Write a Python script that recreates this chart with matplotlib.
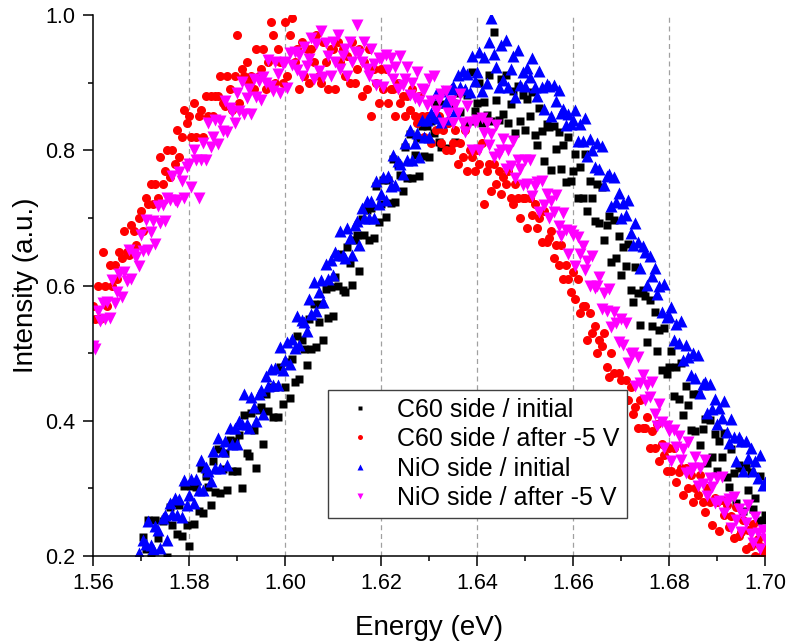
import numpy as np
import matplotlib
matplotlib.use("Agg")
import matplotlib.pyplot as plt
from matplotlib.ticker import MultipleLocator, FormatStrFormatter

plt.rcParams['font.family'] = ['Liberation Sans', 'DejaVu Sans']

# intensities, 0.0005 eV steps
# C60 side / after -5 V  (1.560 ... 1.700 eV)
c60_after = [
    0.57, 0.55, 0.60, 0.55, 0.65, 0.60, 0.57, 0.63, 0.60, 0.63,
    0.61, 0.65, 0.64, 0.68, 0.65, 0.645, 0.69, 0.68, 0.66, 0.70,
    0.71, 0.68, 0.73, 0.72, 0.75, 0.72, 0.75, 0.73, 0.79, 0.75,
    0.77, 0.80, 0.76, 0.80, 0.78, 0.83, 0.79, 0.82, 0.86, 0.84,
    0.85, 0.82, 0.87, 0.82, 0.85, 0.86, 0.82, 0.88, 0.85, 0.88,
    0.85, 0.88, 0.88, 0.91, 0.87, 0.865, 0.91, 0.89, 0.86, 0.91,
    0.97, 0.87, 0.92, 0.91, 0.93, 0.90, 0.91, 0.89, 0.95, 0.91,
    0.92, 0.95, 0.89, 0.93, 0.99, 0.97, 0.90, 0.95, 0.93, 0.90,
    0.99, 0.91, 0.97, 0.995, 0.93, 0.95, 0.89, 0.96, 0.91, 0.95,
    0.90, 0.95, 0.93, 0.97, 0.91, 0.90, 0.96, 0.93, 0.89, 0.95,
    0.95, 0.89, 0.96, 0.93, 0.95, 0.91, 0.94, 0.90, 0.96, 0.90,
    0.92, 0.95, 0.88, 0.93, 0.89, 0.95, 0.85, 0.92, 0.90, 0.87,
    0.92, 0.89, 0.92, 0.87, 0.89, 0.89, 0.85, 0.90, 0.87, 0.88,
    0.85, 0.88, 0.86, 0.89, 0.85, 0.84, 0.88, 0.85, 0.82, 0.85,
    0.85, 0.81, 0.85, 0.83, 0.85, 0.81, 0.83, 0.80, 0.84, 0.80,
    0.81, 0.83, 0.78, 0.81, 0.79, 0.83, 0.77, 0.80, 0.79, 0.77,
    0.80, 0.78, 0.81, 0.72, 0.77, 0.78, 0.74, 0.78, 0.75, 0.77,
    0.735, 0.76, 0.75, 0.77, 0.73, 0.72, 0.75, 0.73, 0.70, 0.73,
    0.73, 0.685, 0.73, 0.705, 0.72, 0.685, 0.70, 0.665, 0.71, 0.665,
    0.67, 0.68, 0.64, 0.66, 0.63, 0.66, 0.61, 0.63, 0.61, 0.59,
    0.62, 0.58, 0.61, 0.56, 0.57, 0.57, 0.52, 0.56, 0.53, 0.54,
    0.50, 0.52, 0.51, 0.53, 0.48, 0.465, 0.50, 0.47, 0.43, 0.47,
    0.46, 0.41, 0.46, 0.43, 0.45, 0.41, 0.42, 0.39, 0.43, 0.39,
    0.39, 0.405, 0.36, 0.385, 0.36, 0.395, 0.34, 0.365, 0.35, 0.325,
    0.36, 0.325, 0.36, 0.31, 0.324, 0.33, 0.29, 0.33, 0.30, 0.32,
    0.28, 0.30, 0.29, 0.32, 0.28, 0.265, 0.30, 0.28, 0.246, 0.286,
    0.28, 0.237, 0.283, 0.26, 0.276, 0.243, 0.259, 0.226, 0.272, 0.229,
    0.235, 0.253, 0.21, 0.238, 0.215, 0.247, 0.20, 0.225, 0.215, 0.205,
    0.21,
]

# NiO side / after -5 V  (1.560 ... 1.700 eV)
nio_after = [
    0.51, 0.506, 0.562, 0.548, 0.574, 0.55, 0.576, 0.552, 0.608, 0.574,
    0.59, 0.617, 0.583, 0.62, 0.606, 0.653, 0.609, 0.646, 0.642, 0.629,
    0.675, 0.651, 0.697, 0.653, 0.679, 0.695, 0.661, 0.717, 0.693, 0.719,
    0.695, 0.73, 0.726, 0.762, 0.727, 0.723, 0.768, 0.754, 0.729, 0.775,
    0.78, 0.745, 0.80, 0.785, 0.73, 0.785, 0.81, 0.785, 0.84, 0.805,
    0.82, 0.845, 0.809, 0.844, 0.828, 0.873, 0.827, 0.862, 0.856, 0.84,
    0.885, 0.858, 0.901, 0.854, 0.877, 0.89, 0.853, 0.906, 0.879, 0.902,
    0.875, 0.908, 0.90, 0.933, 0.895, 0.888, 0.93, 0.913, 0.885, 0.928,
    0.93, 0.892, 0.944, 0.926, 0.946, 0.918, 0.941, 0.91, 0.952, 0.924,
    0.935, 0.966, 0.906, 0.957, 0.917, 0.977, 0.908, 0.959, 0.939, 0.91,
    0.96, 0.93, 0.97, 0.92, 0.94, 0.95, 0.91, 0.96, 0.93, 0.945,
    0.985, 0.943, 0.93, 0.96, 0.92, 0.91, 0.95, 0.928, 0.897, 0.936,
    0.935, 0.893, 0.941, 0.919, 0.937, 0.905, 0.923, 0.891, 0.939, 0.897,
    0.905, 0.923, 0.881, 0.899, 0.877, 0.915, 0.873, 0.891, 0.889, 0.867,
    0.905, 0.8725, 0.91, 0.8575, 0.875, 0.8825, 0.84, 0.8875, 0.855, 0.8725,
    0.84, 0.8675, 0.855, 0.8825, 0.84, 0.8275, 0.865, 0.8425, 0.80, 0.8425,
    0.845, 0.80, 0.848, 0.825, 0.841, 0.808, 0.824, 0.79, 0.837, 0.794,
    0.80, 0.817, 0.773, 0.80, 0.776, 0.813, 0.759, 0.786, 0.772, 0.749,
    0.785, 0.75, 0.786, 0.732, 0.747, 0.753, 0.708, 0.754, 0.719, 0.735,
    0.70, 0.725, 0.709, 0.734, 0.688, 0.673, 0.707, 0.682, 0.646, 0.681,
    0.675, 0.629, 0.672, 0.646, 0.659, 0.623, 0.636, 0.60, 0.643, 0.597,
    0.60, 0.613, 0.566, 0.589, 0.562, 0.595, 0.538, 0.561, 0.544, 0.517,
    0.55, 0.512, 0.544, 0.486, 0.498, 0.50, 0.452, 0.494, 0.456, 0.468,
    0.43, 0.4525, 0.435, 0.4575, 0.41, 0.3925, 0.425, 0.3975, 0.36, 0.3925,
    0.385, 0.3405, 0.386, 0.3615, 0.377, 0.3425, 0.358, 0.3235, 0.369, 0.3245,
    0.33, 0.3465, 0.303, 0.3295, 0.306, 0.3425, 0.289, 0.3155, 0.302, 0.2785,
    0.315, 0.281, 0.317, 0.263, 0.279, 0.285, 0.241, 0.287, 0.253, 0.269,
    0.235, 0.262, 0.249, 0.276, 0.233, 0.22, 0.257, 0.234, 0.21, 0.238,
    0.225,
]

# C60 side / initial  (1.565 ... 1.700 eV)
c60_init = [
    0.16, 0.14, 0.17, 0.15, 0.16, 0.18, 0.15, 0.19, 0.17, 0.195,
    0.175, 0.228, 0.211, 0.254, 0.197, 0.19, 0.253, 0.226, 0.189, 0.252,
    0.255, 0.1985, 0.272, 0.2455, 0.279, 0.2325, 0.276, 0.2295, 0.303, 0.2465,
    0.215, 0.304, 0.248, 0.302, 0.266, 0.33, 0.264, 0.318, 0.302, 0.276,
    0.34, 0.2945, 0.359, 0.2935, 0.328, 0.3525, 0.297, 0.3715, 0.326, 0.3705,
    0.325, 0.3795, 0.30, 0.4085, 0.353, 0.3475, 0.412, 0.3865, 0.33, 0.4155,
    0.42, 0.365, 0.44, 0.415, 0.45, 0.405, 0.45, 0.405, 0.48, 0.425,
    0.45, 0.487, 0.434, 0.491, 0.458, 0.525, 0.462, 0.519, 0.506, 0.483,
    0.55, 0.5065, 0.573, 0.5095, 0.546, 0.5725, 0.519, 0.5955, 0.552, 0.5985,
    0.555, 0.612, 0.599, 0.646, 0.593, 0.59, 0.657, 0.634, 0.601, 0.668,
    0.675, 0.6215, 0.698, 0.6745, 0.711, 0.6675, 0.714, 0.6705, 0.747, 0.6935,
    0.72, 0.7555, 0.701, 0.7565, 0.722, 0.7875, 0.723, 0.7785, 0.764, 0.7395,
    0.805, 0.7595, 0.824, 0.7585, 0.793, 0.8175, 0.762, 0.8365, 0.791, 0.8355,
    0.79, 0.843, 0.826, 0.869, 0.812, 0.805, 0.868, 0.841, 0.804, 0.867,
    0.87, 0.812, 0.884, 0.856, 0.888, 0.84, 0.882, 0.844, 0.916, 0.858,
    0.87, 0.90, 0.841, 0.872, 0.852, 0.912, 0.843, 0.975, 0.874, 0.845,
    0.905, 0.8535, 0.912, 0.8405, 0.869, 0.8875, 0.826, 0.8945, 0.843, 0.8815,
    0.83, 0.8755, 0.851, 0.8865, 0.822, 0.8075, 0.863, 0.8285, 0.784, 0.8395,
    0.835, 0.7705, 0.836, 0.8015, 0.827, 0.7725, 0.808, 0.7535, 0.819, 0.7545,
    0.77, 0.795, 0.73, 0.775, 0.73, 0.795, 0.71, 0.755, 0.73, 0.695,
    0.75, 0.6925, 0.745, 0.6675, 0.69, 0.7025, 0.635, 0.6975, 0.64, 0.6725,
    0.615, 0.657, 0.629, 0.661, 0.593, 0.575, 0.627, 0.589, 0.541, 0.593,
    0.585, 0.5165, 0.578, 0.5395, 0.561, 0.5025, 0.534, 0.4755, 0.537, 0.4685,
    0.48, 0.503, 0.436, 0.479, 0.432, 0.485, 0.408, 0.451, 0.424, 0.387,
    0.44, 0.3845, 0.439, 0.3635, 0.388, 0.4025, 0.337, 0.4015, 0.346, 0.3805,
    0.325, 0.3705, 0.346, 0.3815, 0.317, 0.3025, 0.358, 0.3235, 0.279, 0.3345,
    0.33, 0.266, 0.332, 0.298, 0.324, 0.27, 0.286, 0.252, 0.318, 0.254,
    0.26,
]

# NiO side / initial  (1.565 ... 1.700 eV)
nio_init = [
    0.17, 0.15, 0.18, 0.15, 0.17, 0.18, 0.16, 0.19, 0.185, 0.205,
    0.19, 0.224, 0.218, 0.252, 0.216, 0.21, 0.244, 0.238, 0.212, 0.256,
    0.26, 0.224, 0.278, 0.262, 0.286, 0.26, 0.284, 0.258, 0.312, 0.276,
    0.29, 0.3145, 0.279, 0.3135, 0.298, 0.3425, 0.297, 0.3315, 0.326, 0.3105,
    0.355, 0.33, 0.375, 0.33, 0.355, 0.37, 0.335, 0.39, 0.365, 0.39,
    0.365, 0.40, 0.395, 0.44, 0.395, 0.39, 0.435, 0.42, 0.40, 0.44,
    0.445, 0.4105, 0.466, 0.4515, 0.477, 0.4525, 0.478, 0.4535, 0.509, 0.4745,
    0.49, 0.517, 0.484, 0.521, 0.508, 0.555, 0.512, 0.549, 0.546, 0.533,
    0.58, 0.5575, 0.605, 0.5625, 0.59, 0.6075, 0.575, 0.6325, 0.61, 0.6375,
    0.615, 0.65, 0.645, 0.68, 0.645, 0.64, 0.685, 0.67, 0.645, 0.69,
    0.695, 0.66, 0.715, 0.70, 0.725, 0.70, 0.725, 0.70, 0.755, 0.72,
    0.735, 0.7605, 0.726, 0.7615, 0.747, 0.7925, 0.748, 0.7835, 0.779, 0.7645,
    0.81, 0.785, 0.83, 0.785, 0.81, 0.825, 0.79, 0.845, 0.82, 0.845,
    0.82, 0.8545, 0.849, 0.8835, 0.848, 0.8425, 0.887, 0.8715, 0.846, 0.8905,
    0.895, 0.858, 0.911, 0.894, 0.917, 0.89, 0.913, 0.886, 0.939, 0.902,
    0.915, 0.946, 0.887, 0.938, 0.899, 0.96, 0.995, 0.942, 0.923, 0.894,
    0.955, 0.904, 0.963, 0.893, 0.92, 0.939, 0.879, 0.948, 0.897, 0.916,
    0.895, 0.922, 0.909, 0.936, 0.893, 0.88, 0.917, 0.894, 0.861, 0.898,
    0.895, 0.851, 0.897, 0.873, 0.889, 0.855, 0.861, 0.837, 0.853, 0.839,
    0.845, 0.8595, 0.814, 0.8385, 0.813, 0.8475, 0.792, 0.8165, 0.801, 0.7755,
    0.81, 0.773, 0.806, 0.749, 0.762, 0.765, 0.718, 0.761, 0.724, 0.737,
    0.70, 0.722, 0.704, 0.726, 0.678, 0.66, 0.692, 0.664, 0.626, 0.658,
    0.65, 0.6015, 0.643, 0.6145, 0.626, 0.5875, 0.599, 0.5605, 0.602, 0.5535,
    0.555, 0.5675, 0.52, 0.5425, 0.515, 0.5475, 0.49, 0.5125, 0.495, 0.4675,
    0.50, 0.4635, 0.497, 0.4405, 0.454, 0.4575, 0.411, 0.4545, 0.418, 0.4315,
    0.395, 0.4195, 0.404, 0.4285, 0.383, 0.3675, 0.402, 0.3765, 0.341, 0.3755,
    0.37, 0.325, 0.37, 0.345, 0.36, 0.325, 0.34, 0.315, 0.35, 0.305,
    0.31,
]

labels = ["C60 side / initial", "C60 side / after -5 V",
          "NiO side / initial", "NiO side / after -5 V"]
grid_e = [1.58, 1.60, 1.62, 1.64, 1.66, 1.68]

e_after = np.linspace(1.560, 1.700, len(c60_after))
e_init = np.linspace(1.565, 1.700, len(c60_init))

fig = plt.figure(figsize=(7.9, 6.44), dpi=100)
ax = fig.add_axes([0.1177, 0.1366, 0.8506, 0.8401])

for g in grid_e:
    ax.axvline(g, color='#a0a0a0', lw=0.9, ls=(0, (4, 3)), zorder=0)

ax.plot(e_init, c60_init, 's', color='black', ms=5.5, mec='none', label=labels[0])
ax.plot(e_after, c60_after, 'o', color='red', ms=6.5, mec='none', label=labels[1])
ax.plot(e_init, nio_init, '^', color='blue', ms=8, mec='none', label=labels[2])
ax.plot(e_after, nio_after, 'v', color='magenta', ms=8, mec='none', label=labels[3])

ax.set_xlim(1.56, 1.70)
ax.set_ylim(0.2, 1.0)
ax.xaxis.set_major_locator(MultipleLocator(0.02))
ax.xaxis.set_minor_locator(MultipleLocator(0.01))
ax.yaxis.set_major_locator(MultipleLocator(0.2))
ax.yaxis.set_minor_locator(MultipleLocator(0.1))
ax.xaxis.set_major_formatter(FormatStrFormatter('%.2f'))
ax.yaxis.set_major_formatter(FormatStrFormatter('%.1f'))

for s in ['top', 'right']:
    ax.spines[s].set_visible(False)
for s in ['left', 'bottom']:
    ax.spines[s].set_linewidth(1.1)

ax.tick_params(which='major', direction='out', length=7.5, width=1.1,
               labelsize=15.5, pad=5)
ax.tick_params(which='minor', direction='out', length=3.8, width=1.1)

ax.set_xlabel('Energy (eV)', fontsize=20, labelpad=15)
ax.set_ylabel('Intensity (a.u.)', fontsize=20, labelpad=5)

leg = ax.legend(loc='upper left', bbox_to_anchor=(0.3497, 0.3068), borderaxespad=0,
                fontsize=18, markerscale=0.55, fancybox=False, framealpha=1,
                edgecolor='#404040', borderpad=0.3, handlelength=2.0,
                handletextpad=0.45, labelspacing=0.22)
leg.get_frame().set_linewidth(1.0)
leg.set_zorder(10)

fig.savefig('out.png', dpi=100)
